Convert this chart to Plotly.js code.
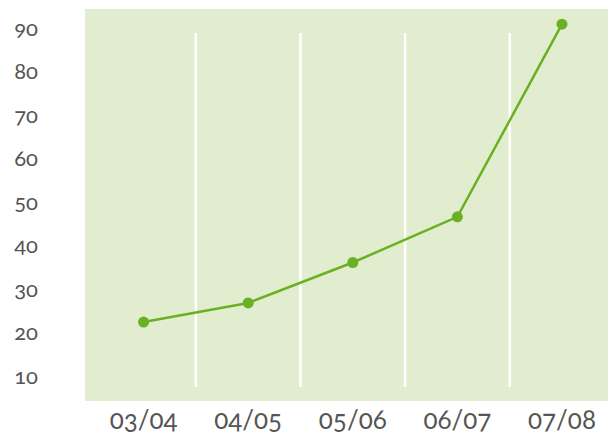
<!DOCTYPE html>
<html>
<head>
<meta charset="utf-8">
<script src="https://cdn.plot.ly/plotly-3.0.1.min.js"></script>
<style>
html,body{margin:0;padding:0;background:#fff;}
#chart{width:608px;height:434px;}
.main-svg text{font-feature-settings:"onum" 1;font-variant-numeric:oldstyle-nums;}
</style>
</head>
<body>
<div id="chart"></div>
<script>
var categories = ["03/04", "04/05", "05/06", "06/07", "07/08"];
var values = [22.4, 26.8, 36.1, 46.6, 90.9];
var yTicks = [10, 20, 30, 40, 50, 60, 70, 80, 90];
var dividers = [0.5, 1.5, 2.5, 3.5];

var shapes = dividers.map(function (d) {
  return {type: "line", xref: "x", yref: "paper", x0: d, x1: d, y0: 0.036, y1: 0.939,
          line: {color: "#ffffff", width: 2.5}, layer: "below"};
});

var trace = {
  x: [0, 1, 2, 3, 4],
  y: values,
  type: "scatter",
  mode: "lines+markers",
  line: {color: "#6ab023", width: 2.5},
  marker: {color: "#6ab023", size: 11},
  hoverinfo: "none"
};

var layout = {
  width: 608, height: 434,
  margin: {l: 85, r: 0, t: 9, b: 33},
  paper_bgcolor: "#ffffff",
  plot_bgcolor: "#e2edcf",
  showlegend: false,
  font: {family: "Lato, sans-serif", color: "#555555"},
  xaxis: {
    range: [-0.56, 4.44],
    tickmode: "array",
    tickvals: [0, 1, 2, 3, 4],
    ticktext: categories,
    showgrid: false, zeroline: false, showline: false, ticks: "",
    tickfont: {size: 26, color: "#555555"},
    ticklabelstandoff: 1
  },
  yaxis: {
    range: [4.25, 94.4],
    tickmode: "array",
    tickvals: yTicks,
    showgrid: false, zeroline: false, showline: false, ticks: "",
    tickfont: {size: 22, color: "#555555"},
    ticklabelstandoff: 46
  },
  shapes: shapes
};

Plotly.newPlot("chart", [trace], layout, {staticPlot: true, displayModeBar: false});
</script>
</body>
</html>
